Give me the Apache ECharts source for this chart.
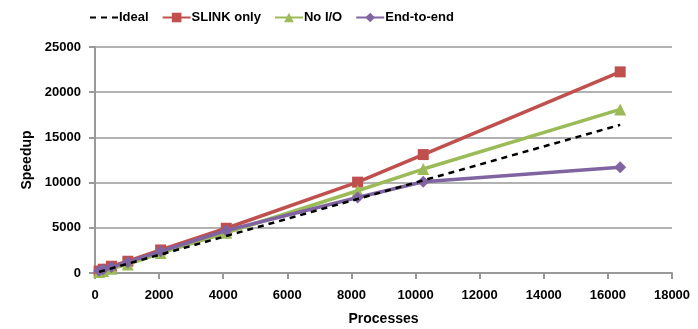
<!DOCTYPE html>
<html><head><meta charset="utf-8">
<script src="https://cdn.jsdelivr.net/npm/echarts@6/dist/echarts.min.js"></script>
<style>html,body{margin:0;padding:0;background:#fff}#c{width:698px;height:329px}</style>
</head><body><div id="c"></div>
<script>
var processes = [128, 256, 512, 1024, 2048, 4096, 8192, 10240, 16384];
var ideal = [128, 256, 512, 1024, 2048, 4096, 8192, 10240, 16384];
var slinkOnly = [220, 420, 750, 1300, 2550, 4950, 10050, 13100, 22250];
var noIO = [100, 230, 480, 950, 2200, 4450, 9100, 11500, 18100];
var endToEnd = [250, 400, 650, 1200, 2400, 4700, 8350, 10100, 11700];
var xTicks = [0, 2000, 4000, 6000, 8000, 10000, 12000, 14000, 16000, 18000];
var yTicks = [0, 5000, 10000, 15000, 20000, 25000];

function pairs(v){ return processes.map(function(x,i){ return [x, v[i]]; }); }
function plain(v){ return String(v); }
var font = "'Liberation Sans', sans-serif";
var chart = echarts.init(document.getElementById('c'));
chart.setOption({
  animation: false,
  textStyle: {fontFamily: font},
  legend: {
    left: 84, top: 6, itemWidth: 28, itemHeight: 12, itemGap: 13,
    textStyle: {fontFamily: font, fontSize: 13, fontWeight: 'bold', color: '#000', padding: [0,0,0,-4]},
    data: [{name: 'Ideal', itemStyle: {opacity: 0}}, 'SLINK only', 'No I/O', 'End-to-end']
  },
  grid: {left: 95, right: 26, top: 47, bottom: 56, containLabel: false, outerBoundsMode: 'none'},
  xAxis: {
    type: 'value', min: xTicks[0], max: xTicks[xTicks.length-1], interval: 2000,
    name: 'Processes', nameLocation: 'middle', nameGap: 39,
    nameTextStyle: {fontFamily: font, fontSize: 14, fontWeight: 'bold', color: '#000'},
    axisLine: {lineStyle: {color: '#999', width: 2}},
    axisTick: {show: true, length: 6, lineStyle: {color: '#999', width: 2}},
    axisLabel: {fontFamily: font, fontSize: 13, fontWeight: 'bold', color: '#000', margin: 16, formatter: plain},
    splitLine: {show: false}
  },
  yAxis: {
    type: 'value', min: yTicks[0], max: yTicks[yTicks.length-1], interval: 5000,
    name: 'Speedup', nameLocation: 'middle', nameGap: 58, nameRotate: 90,
    nameTextStyle: {fontFamily: font, fontSize: 14, fontWeight: 'bold', color: '#000'},
    axisLine: {show: true, lineStyle: {color: '#999', width: 2}},
    axisTick: {show: true, length: 6, lineStyle: {color: '#999', width: 2}},
    axisLabel: {fontFamily: font, fontSize: 13, fontWeight: 'bold', color: '#000', margin: 14, formatter: plain},
    splitLine: {show: true, lineStyle: {color: '#999', width: 1.5}}
  },
  series: [
    {name: 'Ideal', type: 'line', data: pairs(ideal), showSymbol: false, symbol: 'circle', symbolSize: 1,
     lineStyle: {color: '#000', width: 2.5, type: [6, 5]}, itemStyle: {color: '#000'}, z: 5},
    {name: 'SLINK only', type: 'line', data: pairs(slinkOnly), symbol: 'rect', symbolSize: 11,
     lineStyle: {color: '#C0504D', width: 3.5}, itemStyle: {color: '#C0504D'}, z: 2},
    {name: 'No I/O', type: 'line', data: pairs(noIO), symbol: 'triangle', symbolSize: 12,
     lineStyle: {color: '#9BBB59', width: 3.5}, itemStyle: {color: '#9BBB59'}, z: 3},
    {name: 'End-to-end', type: 'line', data: pairs(endToEnd), symbol: 'diamond', symbolSize: 12,
     lineStyle: {color: '#8064A2', width: 3.5}, itemStyle: {color: '#8064A2'}, z: 4}
  ]
});
</script></body></html>
